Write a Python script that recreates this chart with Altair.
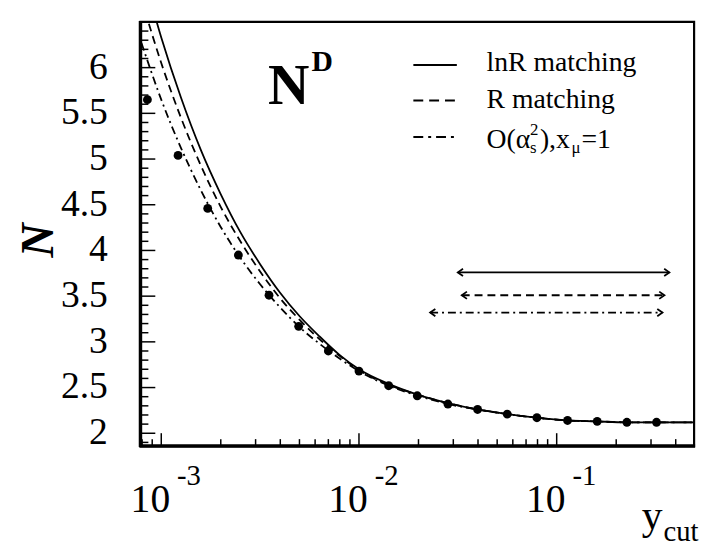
import altair as alt
import pandas as pd

# ---------------- data ----------------
pt_x = [0.000851, 0.001216, 0.001718, 0.002455, 0.003508, 0.004955, 0.0070, 0.0100,
        0.01413, 0.01972, 0.02818, 0.03981, 0.05623, 0.07943, 0.1135, 0.1603, 0.2265, 0.3199]
pt_y = [5.65, 5.04, 4.46, 3.95, 3.51, 3.17, 2.90, 2.68,
        2.52, 2.41, 2.32, 2.26, 2.21, 2.17, 2.14, 2.13, 2.12, 2.12]

curve_x = [0.000794, 0.001, 0.001259, 0.001585, 0.001995, 0.002512, 0.003162, 0.003981,
           0.005012, 0.00631, 0.007943, 0.01, 0.01413, 0.01995, 0.02818, 0.03981,
           0.05623, 0.07943, 0.1122, 0.1585, 0.2239, 0.3162, 0.4955]
lnR_y = [7.10, 6.33, 5.67, 5.10, 4.62, 4.20, 3.85, 3.54, 3.28, 3.06, 2.86, 2.70,
         2.54, 2.42, 2.33, 2.26, 2.21, 2.17, 2.14, 2.13, 2.12, 2.12, 2.12]
R_y = [6.75, 6.05, 5.45, 4.93, 4.48, 4.10, 3.77, 3.48, 3.24, 3.03, 2.85, 2.69,
       2.53, 2.42, 2.33, 2.26, 2.21, 2.17, 2.14, 2.13, 2.12, 2.12, 2.12]
oas_y = [6.27, 5.65, 5.12, 4.66, 4.26, 3.92, 3.63, 3.38, 3.16, 2.98, 2.82, 2.68,
         2.52, 2.41, 2.32, 2.26, 2.21, 2.17, 2.14, 2.13, 2.12, 2.12, 2.12]

# fit ranges (horizontal arrows)
range_names = ["lnR", "R", "oas"]
range_lo = [0.03162, 0.0331, 0.02291]
range_hi = [0.3715, 0.3508, 0.3428]
range_y = [3.76, 3.51, 3.32]

# axis ticks and labels
y_major = [2, 2.5, 3, 3.5, 4, 4.5, 5, 5.5, 6]
y_labels = ["2", "2.5", "3", "3.5", "4", "4.5", "5", "5.5", "6"]
y_minor = [1.9, 2.1, 2.2, 2.3, 2.4, 2.6, 2.7, 2.8, 2.9, 3.1, 3.2, 3.3, 3.4, 3.6, 3.7, 3.8,
           3.9, 4.1, 4.2, 4.3, 4.4, 4.6, 4.7, 4.8, 4.9, 5.1, 5.2, 5.3, 5.4, 5.6, 5.7,
           5.8, 5.9, 6.1, 6.2, 6.3, 6.4]
x_major = [0.001, 0.01, 0.1]
x_exps = ["-3", "-2", "-1"]
x_minor = [0.0008, 0.0009, 0.002, 0.003, 0.004, 0.005, 0.006, 0.007, 0.008, 0.009,
           0.02, 0.03, 0.04, 0.05, 0.06, 0.07, 0.08, 0.09, 0.2, 0.3, 0.4]

# legend / annotation anchors (data units)
leg_x1, leg_x2, leg_tx = 0.01884, 0.03126, 0.04416
leg_y = [6.03, 5.64, 5.24]
nd_x, nd_y = 0.004416, 5.60

# ---------------- layout ----------------
W, H = 560, 429
FONT = "Liberation Serif"
xs = alt.Scale(type="log", domain=[0.000785, 0.4955])
ys = alt.Scale(domain=[1.86, 6.5])
X = lambda f: alt.X(f, type="quantitative", scale=xs, axis=None)
Y = lambda f: alt.Y(f, type="quantitative", scale=ys, axis=None)

def curve(yv, dash):
    df = pd.DataFrame({"x": curve_x, "y": yv})
    kw = dict(color="black", strokeWidth=1.8, clip=True, interpolate="monotone")
    if dash:
        kw["strokeDash"] = dash
    return alt.Chart(df).mark_line(**kw).encode(x=X("x"), y=Y("y"))

pts = alt.Chart(pd.DataFrame({"x": pt_x, "y": pt_y})).mark_circle(
    color="black", opacity=1, size=80, clip=True).encode(x=X("x"), y=Y("y"))

dashes = {"lnR": None, "R": [8, 5], "oas": [8, 4, 2, 4]}
layers = [curve(lnR_y, None), curve(R_y, [8, 5]), curve(oas_y, [8, 4, 2, 4]), pts]

# range arrows
R_PATH = "M-1,-0.7L0,0L-1,0.7"
L_PATH = "M1,-0.7L0,0L1,0.7"
for i, nm in enumerate(range_names):
    df = pd.DataFrame({"lo": [range_lo[i]], "hi": [range_hi[i]], "y": [range_y[i]]})
    kw = dict(color="black", strokeWidth=1.8)
    if dashes[nm]:
        kw["strokeDash"] = dashes[nm]
    layers.append(alt.Chart(df).mark_rule(**kw).encode(x=X("lo"), x2="hi", y=Y("y")))
    layers.append(alt.Chart(df).mark_point(shape=R_PATH, filled=False, stroke="black",
                                           strokeWidth=1.8, size=110, opacity=1)
                  .encode(x=X("hi"), y=Y("y")))
    layers.append(alt.Chart(df).mark_point(shape=L_PATH, filled=False, stroke="black",
                                           strokeWidth=1.8, size=110, opacity=1)
                  .encode(x=X("lo"), y=Y("y")))

# legend
leg_dash = {"lnR": None, "R": [10, 6], "oas": [10, 5, 3, 5]}
for i, nm in enumerate(range_names):
    df = pd.DataFrame({"a": [leg_x1], "b": [leg_x2], "y": [leg_y[i]]})
    kw = dict(color="black", strokeWidth=2)
    if leg_dash[nm]:
        kw["strokeDash"] = leg_dash[nm]
    layers.append(alt.Chart(df).mark_rule(**kw).encode(x=X("a"), x2="b", y=Y("y")))

def label(txt, x, y, size, dx=0, dy=0, align="left", baseline="middle", weight="normal"):
    df = pd.DataFrame({"x": [x], "y": [y]})
    return alt.Chart(df).mark_text(text=txt, font=FONT, fontSize=size, dx=dx, dy=dy,
                                   align=align, baseline=baseline, fontWeight=weight,
                                   color="black").encode(x=X("x"), y=Y("y"))

r3 = leg_y[2] - 0.03
layers += [
    label("lnR matching", leg_tx, leg_y[0] + 0.02, 28),
    label("R matching", leg_tx, leg_y[1], 28),
    label("O(α", leg_tx, r3, 28),
    label("2", leg_tx, r3, 17, dx=44, dy=-10),
    label("s", leg_tx, r3, 17, dx=44, dy=8),
    label("),x", leg_tx, r3, 28, dx=54),
    label("μ", leg_tx, r3, 17, dx=86, dy=8),
    label("=1", leg_tx, r3, 28, dx=96),
    label("N", nd_x, nd_y, 58, align="center", baseline="alphabetic", weight="bold"),
    label("D", nd_x, nd_y, 30, dx=23, dy=-34, baseline="alphabetic", weight="bold"),
]

# ticks (inside)
layers.append(alt.Chart(pd.DataFrame({"v": y_major})).mark_rule(color="black", strokeWidth=1.5)
              .encode(y=Y("v"), x=alt.value(0), x2=alt.value(15)))
layers.append(alt.Chart(pd.DataFrame({"v": y_minor})).mark_rule(color="black", strokeWidth=1.5)
              .encode(y=Y("v"), x=alt.value(0), x2=alt.value(8)))
layers.append(alt.Chart(pd.DataFrame({"v": x_major})).mark_rule(color="black", strokeWidth=1.5)
              .encode(x=X("v"), y=alt.value(H), y2=alt.value(H - 13)))
layers.append(alt.Chart(pd.DataFrame({"v": x_minor})).mark_rule(color="black", strokeWidth=1.5)
              .encode(x=X("v"), y=alt.value(H), y2=alt.value(H - 7)))

# thick left / bottom frame lines
layers.append(alt.Chart(pd.DataFrame({"v": [0]})).mark_rule(color="black", strokeWidth=3.5)
              .encode(x=alt.value(0), y=alt.value(-1), y2=alt.value(H + 1)))
layers.append(alt.Chart(pd.DataFrame({"v": [0]})).mark_rule(color="black", strokeWidth=3.5)
              .encode(y=alt.value(H), x=alt.value(-1), x2=alt.value(W + 1)))

# y tick labels
yl = pd.DataFrame({"v": y_major, "t": y_labels})
layers.append(alt.Chart(yl).mark_text(font=FONT, fontSize=38, align="right", baseline="middle",
                                      color="black")
              .encode(y=Y("v"), x=alt.value(-33), text="t:N"))

# y axis title
layers.append(alt.Chart(pd.DataFrame({"v": [0]})).mark_text(
    text="N", font=FONT, fontSize=48, fontWeight="bold", fontStyle="italic", angle=270,
    align="center", baseline="middle", color="black")
    .encode(x=alt.value(-102), y=alt.value(221)))

# x tick labels 10^n
xl = pd.DataFrame({"v": x_major, "e": x_exps})
layers.append(alt.Chart(xl).mark_text(text="10", font=FONT, fontSize=40, dx=-11, dy=67,
                                      align="center", baseline="alphabetic", color="black")
              .encode(x=X("v"), y=alt.value(H)))
layers.append(alt.Chart(xl).mark_text(font=FONT, fontSize=29, dx=16, dy=39,
                                      align="left", baseline="alphabetic", color="black")
              .encode(x=X("v"), y=alt.value(H), text="e:N"))

# x axis title y_cut
layers.append(alt.Chart(pd.DataFrame({"v": [0.4955]})).mark_text(
    text="y", font=FONT, fontSize=42, dx=-53, dy=84, align="left", baseline="alphabetic",
    color="black").encode(x=X("v"), y=alt.value(H)))
layers.append(alt.Chart(pd.DataFrame({"v": [0.4955]})).mark_text(
    text="cut", font=FONT, fontSize=29, dx=-31, dy=96, align="left", baseline="alphabetic",
    color="black").encode(x=X("v"), y=alt.value(H)))

chart = alt.layer(*layers).properties(
    width=W, height=H,
    autosize=alt.AutoSizeParams(type="none"),
    padding={"left": 134, "top": 11, "right": 9, "bottom": 98},
).configure_view(stroke="black", strokeWidth=2.2)

chart.save("out.html", embed_options={"renderer": "svg", "actions": False})
